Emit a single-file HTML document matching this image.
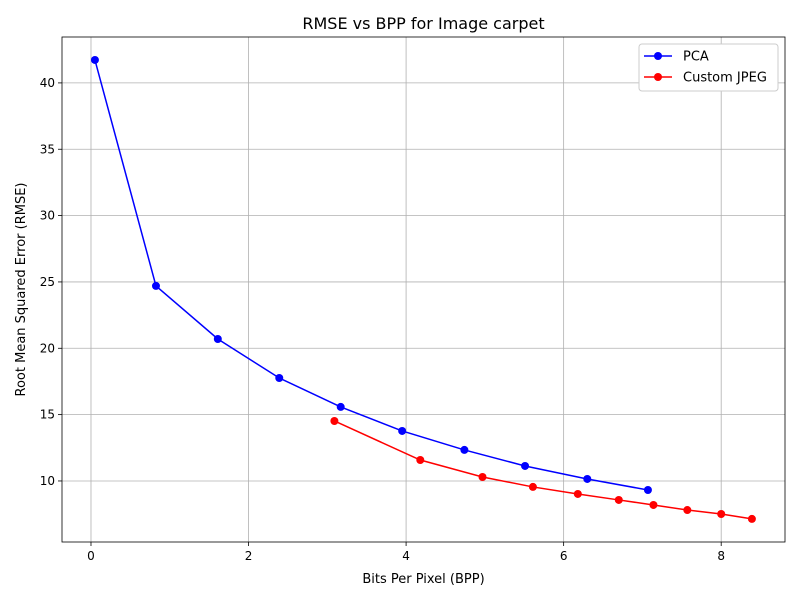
<!DOCTYPE html>
<html><head><meta charset="utf-8"><style>
body{margin:0;background:#fff;font-family:"Liberation Sans","DejaVu Sans",sans-serif;}
</style></head><body>
<svg id="chart" width="800" height="600" xmlns="http://www.w3.org/2000/svg" font-family="'DejaVu Sans','Liberation Sans',sans-serif">
</svg>
<script>
const xTicks=[0,2,4,6,8];
const yTicks=[10,15,20,25,30,35,40];
const pcaX=[0.05,0.825,1.61,2.39,3.17,3.95,4.74,5.51,6.30,7.07];
const pcaY=[41.73,24.7,20.7,17.76,15.58,13.77,12.34,11.13,10.15,9.32];
const jpegX=[3.09,4.18,4.97,5.61,6.18,6.70,7.14,7.57,8.0,8.39];
const jpegY=[14.52,11.58,10.3,9.55,9.02,8.57,8.19,7.81,7.51,7.14];
const L=62,R=785,T=37,B=542;
const xMin=-0.368,xMax=8.81,yMin=5.40,yMax=43.46;
const sx=v=>L+(v-xMin)/(xMax-xMin)*(R-L);
const sy=v=>B-(v-yMin)/(yMax-yMin)*(B-T);
const svg=document.getElementById('chart');
const NS='http://www.w3.org/2000/svg';
function mk(tag,attrs,parent){const e=document.createElementNS(NS,tag);for(const k in attrs)e.setAttribute(k,attrs[k]);(parent||svg).appendChild(e);return e;}
// grid
xTicks.forEach(t=>{const l=mk('line',{x1:sx(t),x2:sx(t),y1:T,y2:B,stroke:'#b0b0b0','stroke-width':0.8});


mk('line',{x1:sx(t),x2:sx(t),y1:B,y2:B+4,stroke:'#000','stroke-width':0.8});
const tx=mk('text',{x:sx(t),y:B+18,'text-anchor':'middle','font-size':12});tx.textContent=t;

});
yTicks.forEach(t=>{const l=mk('line',{x1:L,x2:R,y1:sy(t),y2:sy(t),stroke:'#b0b0b0','stroke-width':0.8});


mk('line',{x1:L-4,x2:L,y1:sy(t),y2:sy(t),stroke:'#000','stroke-width':0.8});
const tx=mk('text',{x:L-7,y:sy(t)+4,'text-anchor':'end','font-size':12});tx.textContent=t;

});
function series(xs,ys,color,name){
const g=mk('g',{});


mk('polyline',{points:xs.map((x,i)=>sx(x)+','+sy(ys[i])).join(' '),fill:'none',stroke:color,'stroke-width':1.5},g);
xs.forEach((x,i)=>{const c=mk('circle',{cx:sx(x),cy:sy(ys[i]),r:4,fill:color},g);

});}
series(pcaX,pcaY,'#0000ff','pca-series');
series(jpegX,jpegY,'#ff0000','custom-jpeg-series');
const fr=mk('rect',{x:L,y:T,width:R-L,height:B-T,fill:'none',stroke:'#000','stroke-width':0.8});


let t=mk('text',{x:(L+R)/2,y:29,'text-anchor':'middle','font-size':16});t.textContent='RMSE vs BPP for Image carpet';


t=mk('text',{x:(L+R)/2,y:583,'text-anchor':'middle','font-size':13});t.textContent='Bits Per Pixel (BPP)';


t=mk('text',{x:25,y:(T+B)/2,'text-anchor':'middle','font-size':13,transform:'rotate(-90 25 '+(T+B)/2+')'});t.textContent='Root Mean Squared Error (RMSE)';


// legend
const lg=mk('g',{});


mk('rect',{x:639,y:44,width:139,height:47,rx:3,fill:'#fff',stroke:'#ccc','stroke-width':1},lg);
[['PCA','#0000ff',56],['Custom JPEG','#ff0000',77]].forEach(([n,c,y])=>{
const e=mk('g',{},lg);


mk('line',{x1:644,x2:672,y1:y,y2:y,stroke:c,'stroke-width':1.5},e);
mk('circle',{cx:658,cy:y,r:4,fill:c},e);
const tx=mk('text',{x:683,y:y+4.5,'font-size':13},e);tx.textContent=n;});
</script>
</body></html>
